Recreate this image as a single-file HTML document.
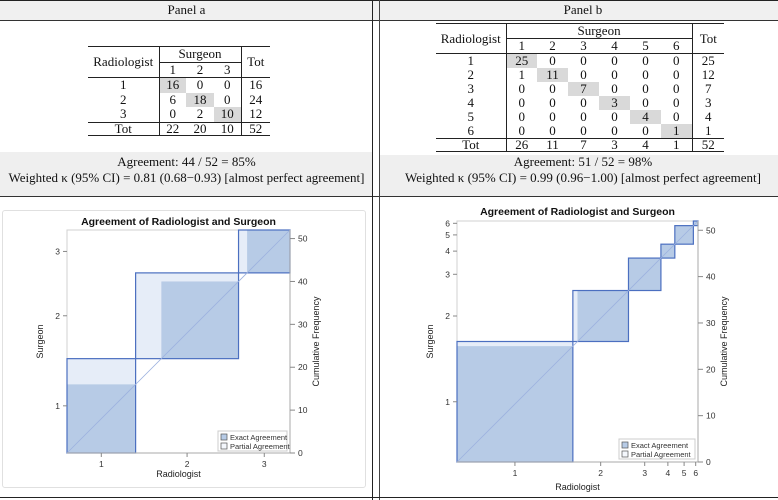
<!DOCTYPE html>
<html><head><meta charset="utf-8">
<style>
body{margin:0;width:778px;height:500px;overflow:hidden;background:#fff;font-family:"Liberation Serif",serif;position:relative}
.abs{position:absolute}
table{border-collapse:collapse;table-layout:fixed;font-size:13px;font-family:"Liberation Serif",serif;color:#111}
td{padding:0;text-align:center;height:14px;line-height:14px;overflow:hidden}
.ta td{height:14.5px;line-height:14.5px}
tr.tot td{height:12px;line-height:12px}
.hl{background:#d9d9d9}
.txt{font-size:13px;text-align:center;line-height:16px;color:#111}
</style></head><body>
<div class="abs" style="left:0;top:0;width:778px;height:19px;background:#f0f0f0;border-top:1px solid #222;border-bottom:1px solid #333"></div>
<div class="abs txt" style="left:0;top:2px;width:373px">Panel a</div>
<div class="abs txt" style="left:380px;top:2px;width:406px">Panel b</div>
<div class="abs" style="left:0;top:152px;width:373px;height:45px;background:#efefef"></div>
<div class="abs" style="left:380px;top:155px;width:398px;height:42px;background:#efefef"></div>
<div class="abs txt" style="left:0;top:154px;width:373px">Agreement: 44 / 52 = 85%<br>Weighted κ (95% CI) = 0.81 (0.68−0.93) [almost perfect agreement]</div>
<div class="abs txt" style="left:380px;top:154px;width:406px">Agreement: 51 / 52 = 98%<br>Weighted κ (95% CI) = 0.99 (0.96−1.00) [almost perfect agreement]</div>
<div class="abs" style="left:0;top:196px;width:778px;height:1px;background:#333"></div>
<div class="abs" style="left:372px;top:0;width:1px;height:500px;background:#222"></div>
<div class="abs" style="left:379px;top:0;width:1px;height:500px;background:#444"></div>
<div class="abs" style="left:0;top:497px;width:778px;height:1px;background:#222"></div>
<div class="abs" style="left:2px;top:210px;width:362px;height:276px;border:1px solid #e0e0e0;border-radius:3px"></div>

<table class="abs ta" style="left:88px;top:46px;width:182px;border-top:1px solid #222;border-bottom:1px solid #222">
<colgroup><col style="width:71px"><col style="width:27px"><col style="width:28px"><col style="width:27px"><col style="width:29px"></colgroup>
<tr><td rowspan="2">Radiologist</td><td colspan="3" style="border-left:1px solid #222;border-bottom:1px solid #222">Surgeon</td><td rowspan="2" style="border-left:1px solid #222">Tot</td></tr>
<tr style="border-bottom:1px solid #222"><td style="border-left:1px solid #222">1</td><td>2</td><td>3</td></tr>
<tr><td>1</td><td class="hl" style="border-left:1px solid #222">16</td><td>0</td><td>0</td><td style="border-left:1px solid #222">16</td></tr>
<tr><td>2</td><td style="border-left:1px solid #222">6</td><td class="hl">18</td><td>0</td><td style="border-left:1px solid #222">24</td></tr>
<tr><td>3</td><td style="border-left:1px solid #222">0</td><td>2</td><td class="hl">10</td><td style="border-left:1px solid #222">12</td></tr>
<tr class="tot" style="border-top:1px solid #222"><td>Tot</td><td style="border-left:1px solid #222">22</td><td>20</td><td>10</td><td style="border-left:1px solid #222">52</td></tr>
</table>

<table class="abs" style="left:436px;top:23px;width:288px;border-top:1px solid #222;border-bottom:1px solid #222">
<colgroup><col style="width:70px"><col span="6" style="width:31px"><col style="width:32px"></colgroup>
<tr><td rowspan="2">Radiologist</td><td colspan="6" style="border-left:1px solid #222;border-bottom:1px solid #222">Surgeon</td><td rowspan="2" style="border-left:1px solid #222">Tot</td></tr>
<tr style="border-bottom:1px solid #222"><td style="border-left:1px solid #222">1</td><td>2</td><td>3</td><td>4</td><td>5</td><td>6</td></tr>
<tr><td>1</td><td class="hl" style="border-left:1px solid #222">25</td><td>0</td><td>0</td><td>0</td><td>0</td><td>0</td><td style="border-left:1px solid #222">25</td></tr>
<tr><td>2</td><td style="border-left:1px solid #222">1</td><td class="hl">11</td><td>0</td><td>0</td><td>0</td><td>0</td><td style="border-left:1px solid #222">12</td></tr>
<tr><td>3</td><td style="border-left:1px solid #222">0</td><td>0</td><td class="hl">7</td><td>0</td><td>0</td><td>0</td><td style="border-left:1px solid #222">7</td></tr>
<tr><td>4</td><td style="border-left:1px solid #222">0</td><td>0</td><td>0</td><td class="hl">3</td><td>0</td><td>0</td><td style="border-left:1px solid #222">3</td></tr>
<tr><td>5</td><td style="border-left:1px solid #222">0</td><td>0</td><td>0</td><td>0</td><td class="hl">4</td><td>0</td><td style="border-left:1px solid #222">4</td></tr>
<tr><td>6</td><td style="border-left:1px solid #222">0</td><td>0</td><td>0</td><td>0</td><td>0</td><td class="hl">1</td><td style="border-left:1px solid #222">1</td></tr>
<tr class="tot" style="border-top:1px solid #222"><td>Tot</td><td style="border-left:1px solid #222">26</td><td>11</td><td>7</td><td>3</td><td>4</td><td>1</td><td style="border-left:1px solid #222">52</td></tr>
</table>

<svg id="plots" class="abs" style="left:0;top:0" width="778" height="500" xmlns="http://www.w3.org/2000/svg"></svg>

<script>
// rows = radiologist, columns = surgeon
const countsA = [[16,0,0],[6,18,0],[0,2,10]];
const countsB = [[25,0,0,0,0,0],[1,11,0,0,0,0],[0,0,7,0,0,0],[0,0,0,3,0,0],[0,0,0,0,4,0],[0,0,0,0,0,1]];
const freqTicks = [0,10,20,30,40,50];
const categoriesA = ['1','2','3'];
const categoriesB = ['1','2','3','4','5','6'];

const NS = 'http://www.w3.org/2000/svg';
const svg = document.getElementById('plots');
function mk(tag, attrs, parent){
  const e = document.createElementNS(NS, tag);
  for (const k in attrs) e.setAttribute(k, attrs[k]);
  (parent||svg).appendChild(e);
  return e;
}
function txt(s, attrs, parent){ const t = mk('text', attrs, parent); t.textContent = s; return t; }

function drawPlot(counts, cats, x0, yb, side, pid, titleY, xlabY, legX, legY, legW){
  const n = counts.length;
  const rowT = counts.map(r => r.reduce((a,b)=>a+b,0));
  const colT = counts[0].map((_,j)=>counts.reduce((a,r)=>a+r[j],0));
  const N = rowT.reduce((a,b)=>a+b,0);
  const k = side / N;
  const xs = u => x0 + u*k;
  const ys = u => yb - u*k;
  const g = mk('g', {});
  
  
  const fr = mk('rect', {x:x0, y:ys(N), width:side, height:side, fill:'#fff', stroke:'#d0d0d0', 'stroke-width':1}, g);
  
  
  let X=0, Y=0;
  for (let i=0;i<n;i++){
    let px = X, py = Y, pw = 0, ph = 0;
    for (let j=0;j<i-1;j++) px += counts[i][j];
    for (let j=Math.max(0,i-1);j<=Math.min(n-1,i+1);j++) pw += counts[i][j];
    for (let j=0;j<i-1;j++) py += counts[j][i];
    for (let j=Math.max(0,i-1);j<=Math.min(n-1,i+1);j++) ph += counts[j][i];
    const pr = mk('rect', {x:xs(px), y:ys(py+ph), width:pw*k, height:ph*k, fill:'#e6edf8'}, g);
    
    
    let ex = X, ey = Y;
    for (let j=0;j<i;j++){ ex += counts[i][j]; ey += counts[j][i]; }
    const d = counts[i][i];
    const er = mk('rect', {x:xs(ex), y:ys(ey+d), width:d*k, height:d*k, fill:'#b7cbe6'}, g);
    
    
    X += rowT[i]; Y += colT[i];
  }
  X=0; Y=0;
  for (let i=0;i<n;i++){
    const br = mk('rect', {x:xs(X), y:ys(Y+colT[i]), width:rowT[i]*k, height:colT[i]*k, fill:'none', stroke:'#4b6fc0', 'stroke-width':1.2}, g);
    
    
    X += rowT[i]; Y += colT[i];
  }
  const dl = mk('line', {x1:xs(0), y1:ys(0), x2:xs(N), y2:ys(N), stroke:'#9db2df', 'stroke-width':0.8}, g);
  
  
  const ax = mk('g', {'font-family':'Liberation Sans, sans-serif', 'font-size':'8.5', fill:'#333'}, g);
  
  
  mk('line', {x1:xs(N), y1:ys(N), x2:xs(N), y2:ys(0), stroke:'#aaa'}, ax);
  mk('line', {x1:x0, y1:yb, x2:xs(N), y2:yb, stroke:'#aaa'}, ax);
  freqTicks.forEach(t=>{
    mk('line', {x1:xs(N), y1:ys(t), x2:xs(N)+5, y2:ys(t), stroke:'#888'}, ax);
    const tl = txt(String(t), {x:xs(N)+8, y:ys(t)+3}, ax);
    
    
  });
  let c=0, r=0;
  for (let i=0;i<n;i++){
    const cx = xs(c + rowT[i]/2), cy = ys(r + colT[i]/2);
    mk('line', {x1:cx, y1:yb, x2:cx, y2:yb+4, stroke:'#888'}, ax);
    const xl = txt(cats[i], {x:cx, y:yb+14, 'text-anchor':'middle'}, ax);
    
    
    mk('line', {x1:x0-4, y1:cy, x2:x0, y2:cy, stroke:'#888'}, ax);
    const yl = txt(cats[i], {x:x0-7, y:cy+3, 'text-anchor':'end'}, ax);
    
    
    c += rowT[i]; r += colT[i];
  }
  const mid = x0 + side/2, vmid = yb - side/2;
  const t1 = txt('Agreement of Radiologist and Surgeon', {x:mid, y:titleY, 'text-anchor':'middle', 'font-weight':'bold', 'font-size':'10.5', fill:'#111'}, ax);
  
  
  const t2 = txt('Radiologist', {x:mid, y:xlabY, 'text-anchor':'middle', 'font-size':'9', fill:'#222'}, ax);
  
  
  const t3 = txt('Surgeon', {x:0, y:0, 'text-anchor':'middle', 'font-size':'9', fill:'#222', transform:`translate(${x0-24},${vmid}) rotate(-90)`}, ax);
  
  
  const t4 = txt('Cumulative Frequency', {x:0, y:0, 'text-anchor':'middle', 'font-size':'9', fill:'#222', transform:`translate(${xs(N)+29},${vmid}) rotate(-90)`}, ax);
  
  
  const lg = mk('g', {}, ax);
  
  
  mk('rect', {x:legX, y:legY, width:legW, height:20, fill:'#fff', stroke:'#ccc'}, lg);
  mk('rect', {x:legX+3, y:legY+3, width:6, height:6, fill:'#b7cbe6', stroke:'#555', 'stroke-width':0.7}, lg);
  const l1 = txt('Exact Agreement', {x:legX+12, y:legY+9, 'font-size':'7.5'}, lg);
  
  
  mk('rect', {x:legX+3, y:legY+12, width:6, height:6, fill:'#f4f7fc', stroke:'#555', 'stroke-width':0.7}, lg);
  const l2 = txt('Partial Agreement', {x:legX+12, y:legY+18, 'font-size':'7.5'}, lg);
  
  
}
drawPlot(countsA, categoriesA, 67, 453, 223, 'panel-a', 225, 477, 218, 431, 69);
drawPlot(countsB, categoriesB, 457, 462, 241, 'panel-b', 215, 490, 619, 439, 76);
</script>
</body></html>
